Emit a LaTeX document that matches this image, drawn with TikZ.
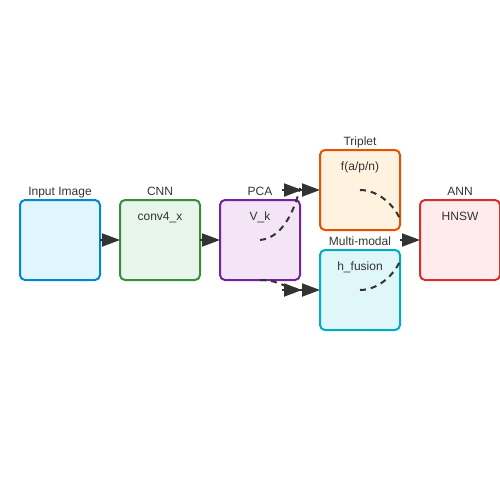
\documentclass[tikz,border=0pt]{standalone}
\usepackage{fontspec}
\setmainfont{Liberation Sans}
\usepackage{tikz}
\usetikzlibrary{arrows.meta}

\definecolor{gris}{HTML}{333333}
\definecolor{azul}{HTML}{0288D1}
\definecolor{azulc}{HTML}{E1F5FE}
\definecolor{verde}{HTML}{388E3C}
\definecolor{verdec}{HTML}{E8F5E9}
\definecolor{morado}{HTML}{7B1FA2}
\definecolor{moradoc}{HTML}{F3E5F5}
\definecolor{naranja}{HTML}{E65100}
\definecolor{naranjac}{HTML}{FFF3E0}
\definecolor{cian}{HTML}{00ACC1}
\definecolor{cianc}{HTML}{E0F7FA}
\definecolor{rojo}{HTML}{D32F2F}
\definecolor{rojoc}{HTML}{FFEBEE}

\begin{document}
\begin{tikzpicture}[x=1pt,y=-1pt,
  caja/.style={draw,line width=2pt,rounded corners=5pt,minimum width=80pt,minimum height=80pt,inner sep=0pt,outer sep=0pt},
  titulo/.style={anchor=base,text=gris,inner sep=0pt,font=\fontsize{12}{14}\selectfont},
  flecha/.style={draw=gris,line width=2pt,-{Triangle[length=18pt,width=13pt]}},
  flechados/.style={draw=gris,line width=2pt,-{Triangle[length=18pt,width=13pt]Triangle[length=18pt,width=13pt]}},
  flujo/.style={draw=gris,line width=2pt,dash pattern=on 6pt off 5pt}]
\useasboundingbox (0,0) rectangle (500,500);

% Imagen de entrada
\node[caja,draw=azul,fill=azulc] (img) at (60,240) {};
\node[titulo] (imgt) at (60,195) {Input Image};

% CNN
\node[caja,draw=verde,fill=verdec] (cnn) at (160,240) {};
\node[titulo] (cnnt) at (160,195) {CNN};
\node[titulo] (cnnv) at (160,220) {conv4\_x};

% PCA
\node[caja,draw=morado,fill=moradoc] (pca) at (260,240) {};
\node[titulo] (pcat) at (260,195) {PCA};
\node[titulo] (pcav) at (260,220) {V\_k};

% Triplet
\node[caja,draw=naranja,fill=naranjac] (tri) at (360,190) {};
\node[titulo] (trit) at (360,145) {Triplet};
\node[titulo] (triv) at (360,170) {f(a/p/n)};

% Multi-modal
\node[caja,draw=cian,fill=cianc] (mm) at (360,290) {};
\node[titulo] (mmt) at (360,245) {Multi-modal};
\node[titulo] (mmv) at (360,270) {h\_fusion};

% ANN
\node[caja,draw=rojo,fill=rojoc] (ann) at (460,240) {};
\node[titulo] (annt) at (460,195) {ANN};
\node[titulo] (annv) at (460,220) {HNSW};

% Flechas
\coordinate (d1) at (300,188);
\coordinate (a1) at (282,190);
\coordinate (d2) at (292,289);
\coordinate (a2) at (282,290);
\coordinate (d3) at (400,219);
\coordinate (d4) at (400,261);
\coordinate (a3) at (400,240);

\draw[flecha] (img.east) -- (cnn.west);
\draw[flecha] (cnn.east) -- (pca.west);

\draw[flujo] (pca.center) .. controls (282,238) and (294,212) .. (d1);
\draw[flechados] (a1) -- (tri.west);
\draw[flujo] (pca.south) .. controls (275,280) and (283,285) .. (d2);
\draw[flechados] (a2) -- (mm.west);

\draw[flujo] (tri.center) .. controls (378,190) and (394,205) .. (d3);
\draw[flujo] (mm.center) .. controls (378,290) and (394,275) .. (d4);
\draw[flecha] (a3) -- (ann.west);
\end{tikzpicture}
\end{document}
